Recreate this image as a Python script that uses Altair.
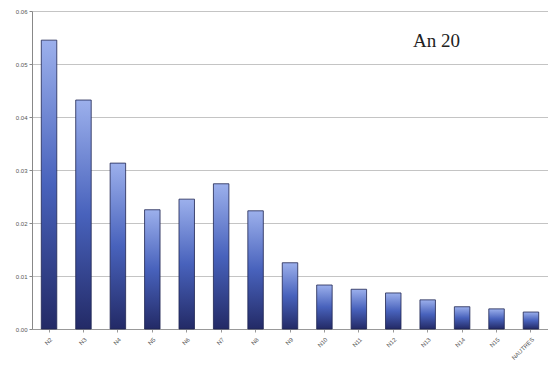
import altair as alt
import pandas as pd

categories = ["N2", "N3", "N4", "N5", "N6", "N7", "N8", "N9", "N10", "N11",
              "N12", "N13", "N14", "N15", "NAUTRES"]
values = [0.0545, 0.0432, 0.0313, 0.0225, 0.0245, 0.0274, 0.0223, 0.0125,
          0.0083, 0.0075, 0.0068, 0.0055, 0.0042, 0.0038, 0.0032]
y_ticks = [0.00, 0.01, 0.02, 0.03, 0.04, 0.05, 0.06]

df = pd.DataFrame({"cat": categories, "val": values})

grad = alt.Gradient(
    gradient="linear",
    stops=[alt.GradientStop(color="#9cb0ec", offset=0),
           alt.GradientStop(color="#4862bc", offset=0.5),
           alt.GradientStop(color="#232a66", offset=1)],
    x1=0, x2=0, y1=0, y2=1,
)

bars = alt.Chart(df).mark_bar(color=grad, stroke="#1e2550", strokeWidth=0.8).encode(
    x=alt.X("cat:N", sort=categories,
            scale=alt.Scale(paddingInner=0.55, paddingOuter=0.27),
            axis=alt.Axis(title=None, labelAngle=-45, labelFontSize=6,
                          labelColor="#555555", labelFont="Liberation Sans",
                          domainColor="#999999", tickColor="#999999", tickSize=3,
                          labelPadding=4)),
    y=alt.Y("val:Q", scale=alt.Scale(domain=[0, 0.06]),
            axis=alt.Axis(title=None, values=y_ticks, format=".2f", labelFontSize=6,
                          labelColor="#555555", labelFont="Liberation Sans",
                          gridColor="#c4c4c4", gridWidth=1.2, domainColor="#888888",
                          tickColor="#888888", tickSize=3)),
)

label = alt.Chart(pd.DataFrame({"t": ["An 20"]})).mark_text(
    font="Liberation Serif", fontSize=19, color="#222222", align="left"
).encode(x=alt.value(381), y=alt.value(30), text="t:N")

chart = alt.layer(bars, label).properties(
    width=516, height=318,
    autosize=alt.AutoSizeParams(type="none"),
    padding={"left": 24, "top": 3, "right": 0, "bottom": 42},
    background="white",
).configure_view(stroke=None)

chart.save("out.html", embed_options={"renderer": "svg", "actions": False})
